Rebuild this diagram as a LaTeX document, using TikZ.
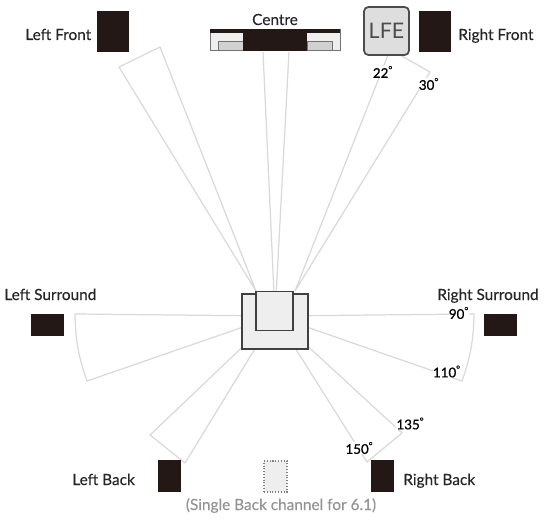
\documentclass[tikz,border=0pt]{standalone}
\usepackage{fontspec}
\setmainfont{Lato}
\newfontfamily\labelfont[FakeBold=0.25]{Lato}
\newfontfamily\anglefont[FakeBold=0.8]{Lato}
\definecolor{spk}{HTML}{231815}
\definecolor{wedgeline}{HTML}{D9D9D9}
\definecolor{roomfill}{HTML}{EEEEEE}
\begin{document}
\begin{tikzpicture}[
    x=1cm, y=1cm,
    every node/.style={font=\labelfont\fontsize{8.75}{10}\selectfont, text=black!85},
    label/.style={anchor=base west, inner sep=0pt},
    speaker/.style={
        draw=none,
        fill=spk,
        inner sep=0pt,
        outer sep=0pt
    },
    panel/.style={
        draw=black!55,
        line width=0.5pt,
        inner sep=0pt,
        outer sep=0pt
    },
    seat/.style={
        draw=black!75,
        line width=1pt,
        fill=roomfill,
        inner sep=0pt,
        outer sep=0pt
    },
    wedge/.style={draw=wedgeline, line width=0.7pt, line join=round},
    angle/.style={font=\anglefont\fontsize{7.6}{9}\selectfont, text=black, fill=white, inner sep=0.2pt}
]
    \useasboundingbox (0,0) rectangle (11,10.5);

    % Wedge end points
    \coordinate (hub) at (5.5,4.18);
    \coordinate (hubL) at (5.12,4.68);
    \coordinate (hubR) at (5.90,4.68);
    \coordinate (lfa) at (2.38,9.16);
    \coordinate (lfb) at (3.20,9.56);
    \coordinate (ca) at (5.26,9.46);
    \coordinate (cb) at (5.78,9.46);
    \coordinate (rfa) at (7.76,9.40);
    \coordinate (rfb) at (8.00,9.40);
    \coordinate (rfc) at (8.60,9.06);
    \coordinate (lsa) at (1.50,4.22);
    \coordinate (lsb) at (1.74,2.88);
    \coordinate (rsa) at (9.48,4.22);
    \coordinate (rsb) at (9.24,2.88);
    \coordinate (lba) at (3.00,1.80);
    \coordinate (lbb) at (3.70,1.24);
    \coordinate (rba) at (7.34,1.26);
    \coordinate (rbb) at (8.04,1.84);

    % Wedges
    \draw[wedge] (hubL) -- (lfa) -- (lfb) -- cycle;
    \draw[wedge] (hub) -- (ca) (hub) -- (cb);
    \draw[wedge] (hubR) -- (rfa) (rfb) -- (rfc) -- (hubR);
    \draw[wedge] (hub) -- (lsa) to[bend right=9] (lsb) -- cycle;
    \draw[wedge] (hub) -- (rsa) to[bend left=9] (rsb) -- cycle;
    \draw[wedge] (hub) -- (lba) -- (lbb) -- cycle;
    \draw[wedge] (hub) -- (rba) -- (rbb) -- cycle;

    % Listening position
    \node[seat, minimum width=1.32cm, minimum height=1.10cm] (room) at (5.50,4.07) {};
    \node[seat, minimum width=0.74cm, minimum height=0.78cm] (sofa) at (5.49,4.28) {};

    % Centre
    \node[panel, fill=roomfill, minimum width=2.60cm, minimum height=0.43cm] (cbox) at (5.50,9.70) {};
    \node[panel, fill=black!18, minimum width=0.50cm, minimum height=0.18cm] (cleft) at (4.61,9.575) {};
    \node[panel, fill=black!18, minimum width=0.50cm, minimum height=0.18cm] (cright) at (6.39,9.575) {};
    \node[speaker, minimum width=2.60cm, minimum height=0.08cm] (cband) at (5.50,9.875) {};
    \node[speaker, minimum width=1.28cm, minimum height=0.43cm] (cmid) at (5.50,9.70) {};
    \node[anchor=base, inner sep=0pt] (clabel) at (5.50,10.00) {Centre};

    % LFE
    \node[draw=black!70, line width=1pt, fill=black!13, rounded corners=2.5pt,
        minimum width=0.90cm, minimum height=0.96cm, inner sep=0pt,
        font=\fontsize{12.2}{14}\selectfont, text=black!70] (lfe) at (7.73,9.88) {LFE};

    % Front speakers
    \node[speaker, minimum width=0.64cm, minimum height=0.82cm] (lf) at (2.26,9.87) {};
    \node[speaker, minimum width=0.64cm, minimum height=0.82cm] (rf) at (8.70,9.87) {};
    \node[label] (lflabel) at (0.50,9.70) {Left Front};
    \node[label] (rflabel) at (9.16,9.70) {Right Front};

    % Surround speakers
    \node[speaker, minimum width=0.66cm, minimum height=0.44cm] (ls) at (0.95,4.00) {};
    \node[speaker, minimum width=0.66cm, minimum height=0.44cm] (rs) at (10.01,4.00) {};
    \node[label] (lslabel) at (0.08,4.50) {Left Surround};
    \node[label] (rslabel) at (8.74,4.50) {Right Surround};

    % Back speakers
    \node[speaker, minimum width=0.46cm, minimum height=0.64cm] (lb) at (3.39,0.98) {};
    \node[speaker, minimum width=0.46cm, minimum height=0.64cm] (rb) at (7.65,0.98) {};
    \node[draw=black!50, densely dotted, line width=0.6pt, fill=roomfill, inner sep=0pt,
        minimum width=0.46cm, minimum height=0.62cm] (sb) at (5.51,0.97) {};
    \node[label] (lblabel) at (1.44,0.80) {Left Back};
    \node[label] (rblabel) at (8.06,0.80) {Right Back};
    \node[anchor=base, inner sep=0pt, text=black!42] (sblabel) at (5.62,0.30) {(Single Back channel for 6.1)};

    % Angles
    \node[angle] (a22) at (7.66,9.06) {22\textsuperscript{\textdegree}};
    \node[angle] (a30) at (8.58,8.82) {30\textsuperscript{\textdegree}};
    \node[angle] (a90) at (9.18,4.24) {90\textsuperscript{\textdegree}};
    \node[angle] (a110) at (8.94,3.07) {110\textsuperscript{\textdegree}};
    \node[angle] (a135) at (8.21,2.03) {135\textsuperscript{\textdegree}};
    \node[angle] (a150) at (7.19,1.54) {150\textsuperscript{\textdegree}};
\end{tikzpicture}
\end{document}
